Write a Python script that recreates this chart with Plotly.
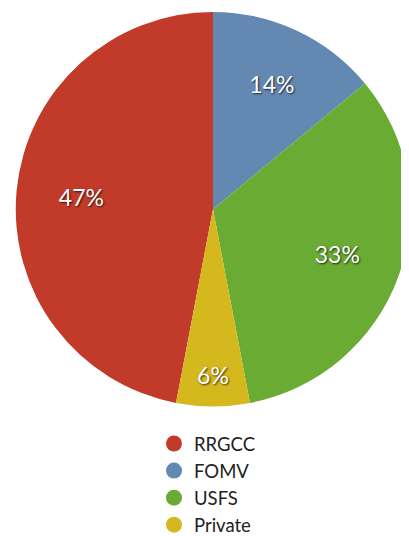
import plotly.graph_objects as go

labels = ["RRGCC", "FOMV", "USFS", "Private"]
values = [47, 14, 33, 6]
colors = ["#C23B2A", "#6389B3", "#6AAB34", "#D4B81E"]

# page body keeps its default 8px margin; figure coords = screen coords - 8
W, H = 409, 536
cx, cy, R = 205, 205, 201
HOLE = 0.34

dom = dict(x=[(cx - R) / W, (cx + R) / W], y=[1 - (cy + R) / H, 1 - (cy - R) / H])
rot = -values[0] / sum(values) * 360

fig = go.Figure()
fig.add_trace(go.Pie(
    labels=labels, values=values, sort=False, direction="clockwise",
    rotation=rot, hole=HOLE,
    marker=dict(colors=colors, line=dict(width=0)),
    texttemplate="%{value}%",
    textposition="inside", insidetextorientation="horizontal",
    textfont=dict(family="Lato", size=23, color="white", shadow="1px 1px 2px rgba(0,0,0,0.75)"),
    domain=dom, showlegend=False, hoverinfo="label+percent",
))
rin = R * HOLE + 1
fig.add_trace(go.Pie(
    labels=labels, values=values, sort=False, direction="clockwise",
    rotation=rot, textinfo="none",
    marker=dict(colors=colors, line=dict(width=0)),
    domain=dict(x=[(cx - rin) / W, (cx + rin) / W], y=[1 - (cy + rin) / H, 1 - (cy - rin) / H]),
    showlegend=False, hoverinfo="label+percent",
))
for lab, col in zip(labels, colors):
    fig.add_trace(go.Scatter(x=[None], y=[None], mode="markers", name=lab,
                             marker=dict(color=col, size=18, symbol="circle")))

fig.update_layout(
    width=W, height=H, margin=dict(l=0, r=0, t=0, b=0),
    paper_bgcolor="white", plot_bgcolor="white",
    xaxis=dict(visible=False), yaxis=dict(visible=False),
    legend=dict(x=146 / W, y=1 - 425 / H, xanchor="left", yanchor="top",
                font=dict(family="Lato", size=18.5, color="#222"),
                itemsizing="trace", bgcolor="rgba(0,0,0,0)", tracegroupgap=0),
)
fig.write_html("out.html", config=dict(displayModeBar=False))
